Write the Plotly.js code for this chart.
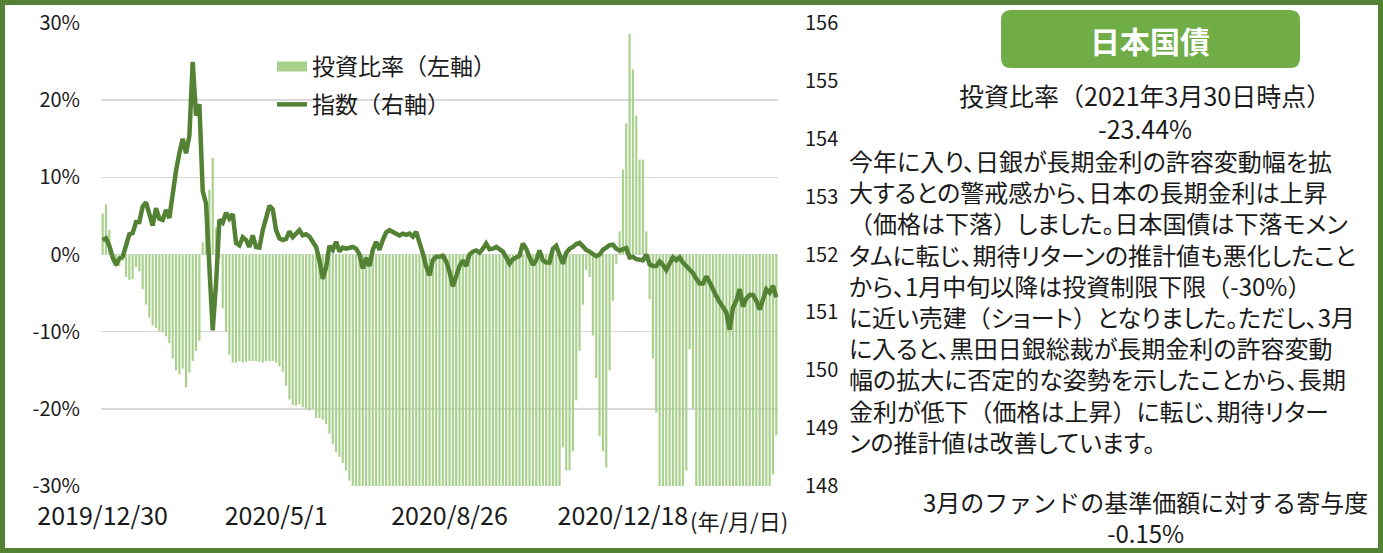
<!DOCTYPE html>
<html>
<head>
<meta charset="utf-8">
<script src="https://cdn.plot.ly/plotly-3.0.1.min.js"></script>
<style>
  body { margin: 0; background: #fff; }
  #chart { width: 1383px; height: 553px; }
  #chart .palt-text { font-feature-settings: "palt"; }
</style>
</head>
<body>
<div id="chart"></div>
<script>
// x axis: one category per observation, labelled at four dates
const dateTickPos = [0, 52, 104, 156];
const dateTickText = ["2019/12/30", "2020/5/1", "2020/8/26", "2020/12/18"];

const ratioTickVals = [-30, -20, -10, 0, 10, 20, 30];
const ratioTickText = ["-30%", "-20%", "-10%", "0%", "10%", "20%", "30%"];
const indexTickVals = [148, 149, 150, 151, 152, 153, 154, 155, 156];
const indexTickText = ["148", "149", "150", "151", "152", "153", "154", "155", "156"];

// 投資比率 (%), left axis
const ratioPct = [
  5.3, 6.5, 3.2, -0.5, -1.6, -1.5, -0.8, -2.9, -3.3, -3.2,
  -1.6, -2.2, -4.5, -6.5, -8.2, -9.2, -9.5, -9.9, -10.1, -10.6,
  -11.5, -13.5, -15.0, -15.5, -14.8, -17.2, -15.3, -13.8, -12.5, -11.2,
  1.6, 4.5, 8.4, 12.5, 3.5, -0.5, -7.0, -10.0, -13.0, -14.0,
  -14.0, -13.8, -14.0, -13.9, -13.8, -13.8, -13.8, -13.9, -14.0, -13.8,
  -13.8, -13.8, -14.0, -14.5, -15.2, -17.0, -18.8, -19.5, -19.6, -19.4,
  -19.8, -20.0, -20.2, -20.0, -21.2, -21.2, -21.4, -22.0, -23.2, -24.6,
  -25.6, -26.2, -27.0, -28.0, -29.3, -30, -30, -30, -30, -30,
  -30, -30, -30, -30, -30, -30, -30, -30, -30, -30,
  -30, -30, -30, -30, -30, -30, -30, -30, -30, -30,
  -30, -30, -30, -30, -30, -30, -30, -30, -30, -30,
  -30, -30, -30, -30, -30, -30, -30, -30, -30, -30,
  -30, -30, -30, -30, -30, -30, -30, -30, -30, -30,
  -30, -30, -30, -30, -30, -30, -30, -30, -25, -28,
  -28, -25.5, -18.9, -12.5, -6.5, -2, -2.9, -10.5, -16, -23.5,
  -25.5, -27.6, -15, -6, -1.2, 3, 11, 17, 28.6, 24,
  18, 12.3, 12.3, 3, -5.8, -13.5, -20.5, -30, -30, -30,
  -30, -30, -30, -30, -30, -28, -12.3, -20, -30, -30,
  -30, -30, -30, -30, -30, -30, -30, -30, -30, -30,
  -30, -30, -30, -30, -30, -30, -30, -30, -30, -30,
  -30, -28.5, -23.44
];

// 指数, right axis
const indexVals = [
  152.25, 152.28, 152.15, 151.95, 151.82, 151.93, 151.96, 152.13, 152.35, 152.37,
  152.56, 152.56, 152.83, 152.9, 152.7, 152.5, 152.8, 152.62, 152.6, 152.77,
  152.63, 153.1, 153.45, 153.75, 154.0, 153.75, 154.05, 155.33, 154.4, 154.6,
  153.1, 152.88, 151.9, 150.69, 151.5, 152.6, 152.55, 152.72, 152.62, 152.7,
  152.2, 152.16, 152.3, 152.25, 152.13, 152.33, 152.13, 152.12, 152.42, 152.65,
  152.84, 152.78, 152.42, 152.28, 152.25, 152.27, 152.4, 152.3, 152.35, 152.42,
  152.33, 152.35, 152.31, 152.22, 152.13, 151.9, 151.58, 151.78, 152.15, 152.08,
  152.22, 152.05, 152.12, 152.1, 152.12, 152.13, 152.1, 152.0, 151.76, 151.94,
  151.8, 152.08, 152.22, 152.08, 152.25, 152.38, 152.42, 152.39, 152.37, 152.33,
  152.36, 152.34, 152.36, 152.31, 152.39, 152.22, 152.02, 151.79, 151.64, 151.9,
  151.96, 151.96, 151.98, 151.88, 151.7, 151.45, 151.65, 151.8, 151.9, 151.8,
  152.0, 152.05, 152.07, 152.03, 152.1, 152.19, 152.09, 152.1, 152.13, 152.1,
  152.05, 151.95, 151.84, 151.92, 151.94, 151.98, 152.19, 152.1, 151.95, 151.82,
  151.9, 152.07, 151.9, 151.86, 151.86, 152.1, 152.15, 152.0, 151.84, 152.03,
  152.1, 152.13, 152.18, 152.2, 152.13, 152.08, 152.05, 152.01, 151.97, 152.0,
  152.08, 152.12, 152.16, 152.17, 152.1, 152.07, 152.1, 152.11, 151.95, 151.96,
  151.92, 151.9, 151.9, 152.0, 151.83, 151.8, 151.8, 151.88, 151.82, 151.73,
  151.86, 151.95, 151.9, 151.95, 151.86, 151.8, 151.75, 151.68, 151.58, 151.5,
  151.5, 151.62, 151.52, 151.38, 151.28, 151.18, 151.1, 151.0, 150.7, 151.08,
  151.2, 151.4, 151.1, 151.24, 151.3, 151.3, 151.2, 151.05, 151.22, 151.4,
  151.34, 151.46, 151.26
];

const seriesNames = ["投資比率（左軸）", "指数（右軸）"];

const panelTitle = "日本国債";
const ratioHeading = "投資比率（2021年3月30日時点）";
const ratioNow = "-23.44%";
const commentLines = [
  "今年に入り、日銀が長期金利の許容変動幅を拡",
  "大するとの警戒感から、日本の長期金利は上昇",
  "（価格は下落）しました。日本国債は下落モメン",
  "タムに転じ、期待リターンの推計値も悪化したこと",
  "から、1月中旬以降は投資制限下限（-30%）",
  "に近い売建（ショート）となりました。ただし、3月",
  "に入ると、黒田日銀総裁が長期金利の許容変動",
  "幅の拡大に否定的な姿勢を示したことから、長期",
  "金利が低下（価格は上昇）に転じ、期待リター",
  "ンの推計値は改善しています。"
];
const contribHeading = "3月のファンドの基準価額に対する寄与度";
const contribNow = "-0.15%";
const dateUnit = "(年/月/日)";

// plot box in page pixels, used to place the side panel
const L = 101, R = 778, T = 23, B = 486;
const px = x => (x - L) / (R - L);
const py = y => (B - y) / (B - T);

const FONT = "Noto Sans CJK JP, Noto Sans, sans-serif";
const INK = "#1a1a1a";
const DARK = "#548235";
const LIGHT = "#A9D18E";

const xs = ratioPct.map((_, i) => i);

function roundRect(x0, y0, x1, y1, r) {
  const p = (x, y) => px(x) + "," + py(y);
  return "M" + p(x0 + r, y0) + " L" + p(x1 - r, y0) + " Q" + p(x1, y0) + " " + p(x1, y0 + r) +
    " L" + p(x1, y1 - r) + " Q" + p(x1, y1) + " " + p(x1 - r, y1) +
    " L" + p(x0 + r, y1) + " Q" + p(x0, y1) + " " + p(x0, y1 - r) +
    " L" + p(x0, y0 + r) + " Q" + p(x0, y0) + " " + p(x0 + r, y0) + " Z";
}

function note(text, x, y, size, anchor, extra) {
  return Object.assign({
    text: text, xref: "paper", yref: "paper", x: px(x), y: py(y),
    xanchor: anchor, yanchor: "middle", showarrow: false, borderpad: 0,
    font: { family: FONT, size: size, color: INK }
  }, extra || {});
}

// keep the brackets full width inside the proportional paragraph
const wideParens = s => s.replace(/（/g, '<span style="font-feature-settings:normal">（</span>')
  .replace(/）/g, '<span style="font-feature-settings:normal">）</span>');

const data = [
  {
    // legend entry only: wide swatch like the original
    type: "scatter", mode: "lines", x: [null], y: [null], name: seriesNames[0],
    line: { color: LIGHT, width: 13 }, legendgroup: "a", hoverinfo: "skip"
  },
  {
    type: "bar", x: xs, y: ratioPct, name: seriesNames[0],
    marker: { color: LIGHT }, yaxis: "y", legendgroup: "a", showlegend: false
  },
  {
    type: "scatter", mode: "lines", x: xs, y: indexVals, name: seriesNames[1],
    line: { color: DARK, width: 4.5 }, yaxis: "y2", legendgroup: "b"
  }
];

const annotations = [
  note(panelTitle, 1150, 40, 30, "center", { font: { family: FONT, size: 30, color: "#ffffff", weight: "bold" } }),
  note(ratioHeading + "<br>" + ratioNow, 1145, 111, 25, "center"),
  note(commentLines.map(wideParens).join("<br>"), 848, 142, 24, "left", { yanchor: "top", align: "left" }),
  note(contribHeading + "<br>" + contribNow, 1145, 517, 24, "center"),
  note(dateUnit, 739, 520, 22, "center")
];

const layout = {
  width: 1383, height: 553,
  margin: { l: L, r: 1383 - R, t: T, b: 553 - B },
  paper_bgcolor: "#ffffff", plot_bgcolor: "#ffffff",
  font: { family: FONT, color: INK },
  bargap: 0.35,
  showlegend: true,
  legend: {
    x: px(272), y: py(45), xanchor: "left", yanchor: "top",
    bgcolor: "rgba(0,0,0,0)", font: { family: FONT, size: 23, color: INK },
    traceorder: "grouped", tracegroupgap: 5
  },
  xaxis: {
    range: [-0.5, xs.length - 0.5],
    tickmode: "array", tickvals: dateTickPos, ticktext: dateTickText,
    showgrid: false, zeroline: false, showline: false, ticks: "",
    ticklabelstandoff: 13,
    tickfont: { family: FONT, size: 25, color: INK }
  },
  yaxis: {
    range: [-30, 30],
    tickmode: "array", tickvals: ratioTickVals, ticktext: ratioTickText,
    showgrid: true, gridcolor: "#d9d9d9", gridwidth: 1.5,
    zeroline: false, showline: false, ticks: "",
    ticklabelstandoff: 20,
    tickfont: { family: FONT, size: 20, color: INK }
  },
  yaxis2: {
    range: [148, 156], overlaying: "y", side: "right",
    tickmode: "array", tickvals: indexTickVals, ticktext: indexTickText,
    showgrid: false, zeroline: false, showline: false, ticks: "",
    ticklabelstandoff: 26,
    tickfont: { family: FONT, size: 20, color: INK }
  },
  shapes: [
    {
      type: "rect", xref: "paper", yref: "paper", layer: "above",
      x0: px(2.5), x1: px(1380.5), y0: py(550.5), y1: py(2.5),
      line: { color: DARK, width: 5 }
    },
    {
      type: "path", xref: "paper", yref: "paper", layer: "below",
      path: roundRect(1001, 10, 1300, 68, 10),
      fillcolor: "#70AD47", line: { width: 0 }
    }
  ],
  annotations: annotations
};

Plotly.newPlot("chart", data, layout, { staticPlot: true }).then(gd => {
  // proportional kana for the comment paragraph (closer to the original face)
  gd.querySelectorAll(".annotation-text").forEach(t => {
    if (t.textContent.indexOf("今年に入り") === 0) t.classList.add("palt-text");
  });
});
</script>
</body>
</html>
